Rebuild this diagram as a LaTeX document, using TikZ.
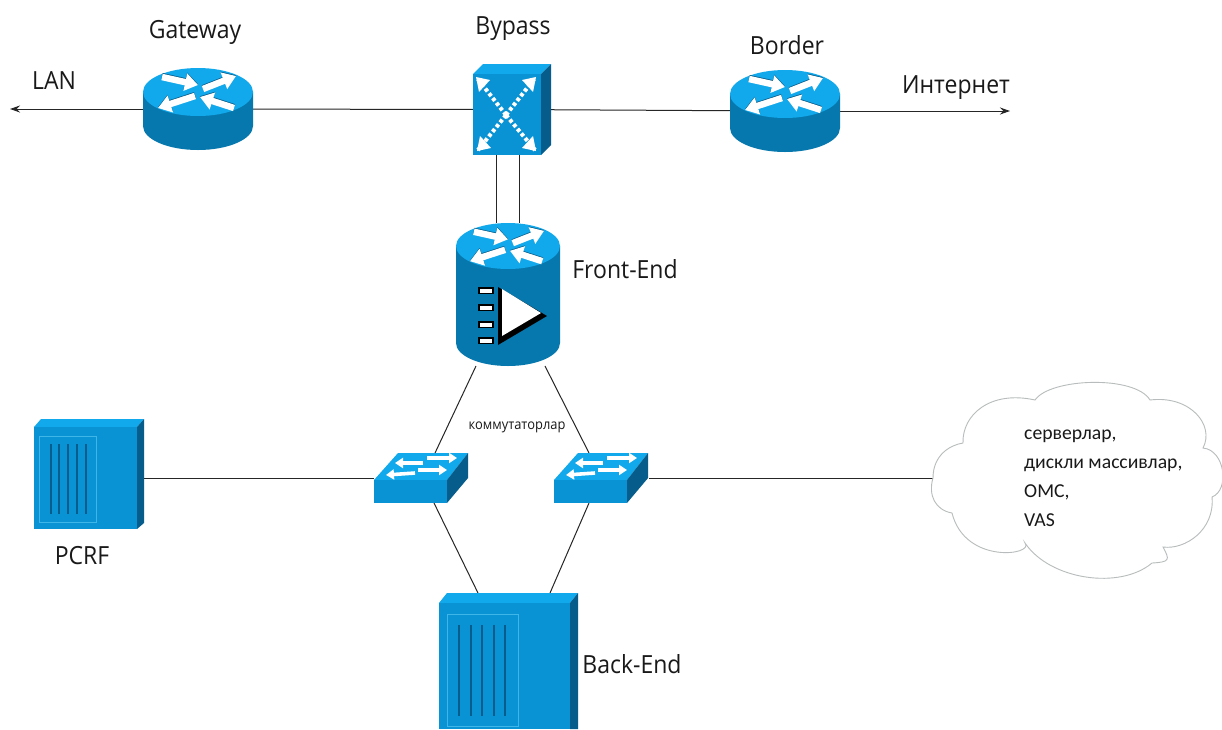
\documentclass[tikz,border=0pt]{standalone}
\usepackage{fontspec}
\setmainfont[FakeStretch=0.92]{Open Sans}
\newfontfamily\cloudfont{Carlito}
\usetikzlibrary{arrows.meta}
\definecolor{topblue}{HTML}{12A9EC}
\definecolor{bodyblue}{HTML}{0678AE}
\definecolor{frontblue}{HTML}{0A93D4}
\definecolor{sideblue}{HTML}{065C8A}
\definecolor{rimblue}{HTML}{3FB6E8}
\definecolor{cloudline}{HTML}{B8BCBC}
\tikzset{
  x=1pt,y=-1pt,
  devbox/.style={inner sep=0pt,outer sep=0pt,draw=none,fill=none,rectangle},
  link/.style={draw=black!85,line width=1pt},
  linkarrow/.style={link,-{Stealth[length=10pt,width=7pt]}},
  label/.style={inner sep=0pt,text=black!90},
  biglabel/.style={label,font=\fontsize{25}{28}\selectfont},
  wharrow/.style={draw=white,line width=6.5pt,-{Triangle[length=13pt,width=17pt,fill=white]}},
  sharrow/.style={draw=sideblue,line width=6.5pt,-{Triangle[length=13pt,width=17pt,fill=sideblue]}},
  swarrow/.style={draw=white,line width=3.6pt,-{Triangle[length=8pt,width=10pt,fill=white]}},
  slot/.style={draw=sideblue,line width=2.2pt},
  rim/.style={draw=rimblue,line width=0.9pt},
}
% flow arrows of a router, centred on the current origin
\newcommand{\rarrows}{%
  \foreach \ax/\ay/\bx/\by in {-36/-15/0/-7,5/-3/38/-16,-3/4/-40/16,36/16/2/5}{
    \draw[sharrow] (\ax,\ay-0.8) -- (\bx,\by-0.8);
    \draw[wharrow] (\ax,\ay) -- (\bx,\by);
  }}
% #1 cx, #2 top centre y, #3 rx, #4 ry, #5 bottom centre y
\newcommand{\cyl}[5]{%
  \fill[bodyblue] (#1-#3,#2) -- (#1-#3,#5) arc[start angle=180,end angle=360,x radius=#3,y radius=-#4] -- (#1+#3,#2) -- cycle;
  \fill[topblue] (#1,#2) ellipse[x radius=#3,y radius=#4];}
% #1 x0 #2 x1 front; #3 y0 #4 y1 front; #5 dx #6 dtop #7 side rise at the bottom
\newcommand{\cube}[7]{%
  \fill[topblue] (#1,#3) -- (#1+#5,#3-#6) -- (#2+#5,#3-#6) -- (#2,#3) -- cycle;
  \fill[sideblue] (#2,#3) -- (#2+#5,#3-#6) -- (#2+#5,#4-#7) -- (#2,#4) -- cycle;
  \fill[frontblue] (#1,#3) rectangle (#2,#4);}
\newcommand{\swbox}[1]{%
  \begin{scope}[shift={(#1,480)}]
    \fill[topblue] (0,0) -- (24,-27) -- (94,-27) -- (73,0) -- cycle;
    \fill[sideblue] (73,0) -- (94,-27) -- (94,-2) -- (73,23) -- cycle;
    \fill[frontblue] (0,0) rectangle (73,23);
    \foreach \ax/\ay/\bx/\by in {49/-17/21/-17,53/-22/83/-22,41/-7/12/-5,44/-10/73/-10}{
      \draw[swarrow] (\ax,\ay) -- (\bx,\by);
    }
  \end{scope}}
\begin{document}
\begin{tikzpicture}
\useasboundingbox (0,0) rectangle (1222,729);
\fill[white] (0,0) rectangle (1222,729);
% anchor nodes
\node[devbox,minimum width=110pt,minimum height=82pt] (gateway) at (198,109) {};
\node[devbox,minimum width=110pt,minimum height=82pt] (border) at (785,111) {};
\node[devbox,minimum width=73pt,minimum height=91pt] (bypass) at (509.5,109.5) {};
\node[devbox,minimum width=104pt,minimum height=143pt] (frontend) at (508,294.5) {};
\node[devbox,minimum width=94pt,minimum height=50pt] (swleft) at (421,478) {};
\node[devbox,minimum width=95pt,minimum height=50pt] (swright) at (601.5,478) {};
\node[devbox,minimum width=108pt,minimum height=110pt] (pcrf) at (88,474) {};
\node[devbox,minimum width=138pt,minimum height=136pt] (backend) at (508,661) {};
\node[devbox,minimum width=289pt,minimum height=196pt] (cloud) at (1077.5,478) {};
\coordinate (lanend) at (10,109);
\coordinate (inetend) at (1010,111);
% connectors
\draw[linkarrow] (gateway) -- (lanend);
\draw[link] (gateway) -- (bypass);
\draw[link] (bypass) -- (border);
\draw[linkarrow] (border) -- (inetend);
\draw[link] ([xshift=-13.5pt]bypass.south) -- ([xshift=-12pt]frontend.north);
\draw[link] ([xshift=9.5pt]bypass.south) -- ([xshift=11pt]frontend.north);
\draw[link] ([xshift=-32pt]frontend.south) -- ([xshift=14pt]swleft.north);
\draw[link] ([xshift=37pt]frontend.south) -- ([xshift=-12.5pt]swright.north);
\draw[link] ([xshift=13pt]swleft.south) -- ([xshift=-30pt]backend.north);
\draw[link] ([xshift=-12.5pt]swright.south) -- ([xshift=42pt]backend.north);
\draw[link] ([yshift=-4pt]pcrf.east) -- (swleft.west);
\draw[link] (swright.east) -- (cloud.west);
% routers
\cyl{198}{92}{55}{24}{126}
\begin{scope}[shift={(198,92)}]\rarrows\end{scope}
\cyl{785}{94}{55}{24}{128}
\begin{scope}[shift={(785,94)}]\rarrows\end{scope}
% bypass
\cube{473}{541}{74}{155}{10}{10}{10}
\foreach \tx/\ty in {477/78,535/78,478/150,535/150}{
  \draw[draw=white,line width=4pt,dash pattern=on 3.5pt off 2.5pt] (506,115) -- (\tx,\ty);
}
\fill[white] (476,77) -- (490,80) -- (479,92) -- cycle;
\fill[white] (536,77) -- (522,80) -- (533,92) -- cycle;
\fill[white] (477,151) -- (491,148) -- (480,136) -- cycle;
\fill[white] (536,151) -- (522,148) -- (533,136) -- cycle;
% front-end
\cyl{508}{246}{52}{23}{343}
\begin{scope}[shift={(508,246)},xscale=0.95,yscale=0.95]\rarrows\end{scope}
\fill[black] (498,287) -- (547,316) -- (498,345) -- cycle;
\fill[white] (502,289) -- (541,313) -- (502,336) -- cycle;
\foreach \by in {287,304,321,337}{
  \fill[black] (478,\by) rectangle (494,\by+7);
  \fill[white] (480,\by+1.5) rectangle (492,\by+5.5);
}
% switches
\swbox{374}
\swbox{554}
% PCRF
\cube{34}{137}{427}{529}{7}{8}{6}
\draw[rim] (39,436) rectangle (96,522);
\foreach \sx in {51,59,68,77,86}{\draw[slot] (\sx,444) -- (\sx,514);}
% back-end
\cube{439}{570}{603}{729}{8}{10}{0}
\draw[rim] (447,614) rectangle (518,726);
\foreach \sx in {459,471,482,494,505}{\draw[slot] (\sx,625) -- (\sx,716);}
% cloud
\filldraw[fill=white,draw=cloudline,line width=0.9pt]
  (933,478)
  .. controls (933,455) and (950,445) .. (963,443)
  .. controls (962,415) and (990,390) .. (1035,400)
  .. controls (1050,378) and (1135,375) .. (1150,400)
  .. controls (1190,395) and (1215,425) .. (1203,448)
  .. controls (1225,450) and (1230,490) .. (1212,497)
  .. controls (1215,530) and (1185,550) .. (1163,547)
  .. controls (1170,560) and (1170,562) .. (1152,563)
  .. controls (1120,590) and (1050,580) .. (1025,543)
  .. controls (1035,555) and (965,565) .. (952,513)
  .. controls (935,510) and (928,495) .. (933,478)
  -- cycle;
% labels
\node[biglabel] (tgw) at (195,32) {Gateway};
\node[biglabel] (tby) at (513,29) {Bypass};
\node[biglabel] (tbo) at (787,45) {Border};
\node[biglabel] (tlan) at (54,81) {LAN};
\node[biglabel] (tin) at (956,88) {Интернет};
\node[biglabel] (tfe) at (625,269) {Front-End};
\node[biglabel] (tpc) at (82,556) {PCRF};
\node[biglabel] (tbe) at (632,664) {Back-End};
\node[label,font=\fontsize{14}{16}\selectfont] (tsw) at (517,427) {коммутаторлар};
\node[label,anchor=west,align=left,font=\cloudfont\fontsize{19.7}{29}\selectfont] (tcl) at (1024,478) {серверлар,\\дискли массивлар,\\ОМС,\\VAS};
\end{tikzpicture}
\end{document}
